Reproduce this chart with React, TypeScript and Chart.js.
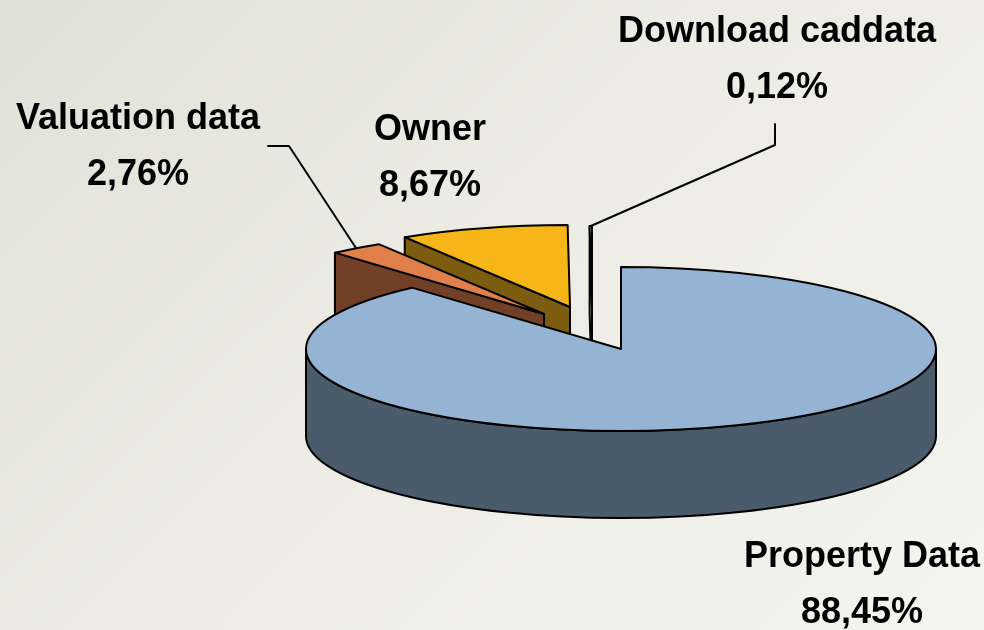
import React, { useEffect, useRef } from "react";
import { Chart, registerables } from "chart.js";

Chart.register(...registerables);

// ---- data ----
const categories = ["Property Data", "Valuation data", "Owner", "Download caddata"];
const shares = [88.45, 2.76, 8.67, 0.12];
const shareLabels = ["88,45%", "2,76%", "8,67%", "0,12%"];

// ---- styles ----
const topColors = ["#95B3D3", "#E08048", "#F6B618", "#EEEEE8"];
const sideColors = ["#4A5B6C", "#714026", "#7C5C0E", "#E6E6DE"];
const explode: number[][] = [[0, 0], [-77, -35], [-51, -42], [-29, -41]];
const DEPTH = 87;
const labelPos: number[][] = [[862, 567], [138, 129], [430, 140], [777, 42]];
const LINE_GAP = 56;
const leaderStarts: (number[][] | null)[] = [null, [[268, 146], [289, 146]], null, [[775, 124], [775, 145]]];
const drawOrder = [3, 2, 1, 0];
const FONT = "bold 36px 'Liberation Sans', Arial, sans-serif";

const pie3d = {
  id: "pie3d",
  afterDatasetsDraw(chart: any) {
    const ctx: CanvasRenderingContext2D = chart.ctx;
    const meta = chart.getDatasetMeta(0);
    const area = chart.chartArea;
    const rx = (area.right - area.left) / 2;
    ctx.save();
    ctx.lineJoin = "round";
    ctx.lineCap = "round";
    ctx.lineWidth = 2;
    ctx.strokeStyle = "#000";
    for (const i of drawOrder) {
      const arc = meta.data[i];
      const p = arc.getProps(["x", "y", "outerRadius", "startAngle", "endAngle"], true);
      const ry = p.outerRadius;
      const cx = p.x + explode[i][0];
      const cy = p.y + explode[i][1];
      const s = p.startAngle;
      const e = p.endAngle;
      const pt = (a: number, dz = 0): [number, number] => [cx + rx * Math.cos(a), cy + ry * Math.sin(a) + dz];

      const radialFace = (a: number) => {
        const [px, py] = pt(a);
        ctx.beginPath();
        ctx.moveTo(cx, cy);
        ctx.lineTo(px, py);
        ctx.lineTo(px, py + DEPTH);
        ctx.lineTo(cx, cy + DEPTH);
        ctx.closePath();
        ctx.fillStyle = sideColors[i];
        ctx.fill();
        ctx.stroke();
      };
      if (Math.cos(s) < 0) radialFace(s);
      if (Math.cos(e) > 0) radialFace(e);

      // outer curved side (front half only)
      for (let k = -1; k <= 1; k++) {
        const a0 = Math.max(s, 2 * Math.PI * k);
        const a1 = Math.min(e, 2 * Math.PI * k + Math.PI);
        if (a1 > a0) {
          const [bx, by] = pt(a1, DEPTH);
          ctx.beginPath();
          ctx.ellipse(cx, cy, rx, ry, 0, a0, a1, false);
          ctx.lineTo(bx, by);
          ctx.ellipse(cx, cy + DEPTH, rx, ry, 0, a1, a0, true);
          ctx.closePath();
          ctx.fillStyle = sideColors[i];
          ctx.fill();
          ctx.stroke();
        }
      }

      // top face
      const [sx, sy] = pt(s);
      ctx.beginPath();
      ctx.moveTo(cx, cy);
      ctx.lineTo(sx, sy);
      ctx.ellipse(cx, cy, rx, ry, 0, s, e, false);
      ctx.closePath();
      ctx.fillStyle = topColors[i];
      ctx.fill();
      ctx.stroke();
    }

    // leader lines
    ctx.lineWidth = 2;
    for (let i = 0; i < categories.length; i++) {
      const pts = leaderStarts[i];
      if (!pts) continue;
      const arc = meta.data[i];
      const p = arc.getProps(["x", "y", "outerRadius", "startAngle", "endAngle"], true);
      const mid = (p.startAngle + p.endAngle) / 2;
      const ax = p.x + explode[i][0] + rx * Math.cos(mid);
      const ay = p.y + explode[i][1] + p.outerRadius * Math.sin(mid);
      ctx.beginPath();
      ctx.moveTo(pts[0][0], pts[0][1]);
      for (let j = 1; j < pts.length; j++) ctx.lineTo(pts[j][0], pts[j][1]);
      ctx.lineTo(ax, ay);
      ctx.stroke();
    }

    // labels
    ctx.fillStyle = "#000";
    ctx.font = FONT;
    ctx.textAlign = "center";
    ctx.textBaseline = "alphabetic";
    for (let i = 0; i < categories.length; i++) {
      const [lx, ly] = labelPos[i];
      ctx.fillText(categories[i], lx, ly);
      ctx.fillText(shareLabels[i], lx, ly + LINE_GAP);
    }
    ctx.restore();
  },
};

export default function App() {
  const canvasRef = useRef<HTMLCanvasElement | null>(null);
  useEffect(() => {
    document.body.style.margin = "0";
    const canvas = canvasRef.current;
    if (!canvas) return;
    const chart = new Chart(canvas, {
      type: "pie",
      data: {
        labels: categories,
        datasets: [
          {
            data: shares,
            backgroundColor: "rgba(0,0,0,0)",
            borderWidth: 0,
            hoverOffset: 0,
            offset: 0,
          },
        ],
      },
      options: {
        animation: false,
        responsive: false,
        devicePixelRatio: 1,
        events: [],
        layout: { padding: { left: 306, right: 48, top: 267, bottom: 199 } },
        plugins: { legend: { display: false }, tooltip: { enabled: false } },
      },
      plugins: [pie3d],
    } as any);
    return () => chart.destroy();
  }, []);
  return (
    <div
      style={{
        position: "fixed",
        left: 0,
        top: 0,
        width: 984,
        height: 630,
        background: "linear-gradient(135deg, #e0e1d6 0%, #ececE4 45%, #f4f4f0 100%)",
      }}
    >
      <canvas ref={canvasRef} width={984} height={630} style={{ display: "block" }} />
    </div>
  );
}
